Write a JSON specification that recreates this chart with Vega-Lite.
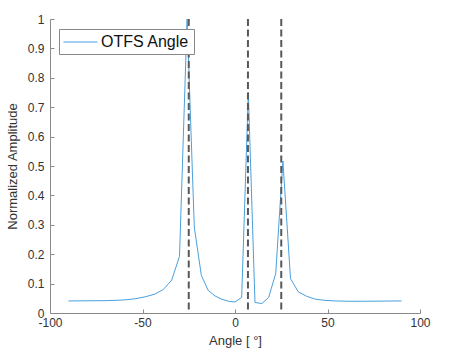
{
  "$schema": "https://vega.github.io/schema/vega-lite/v6.json",
  "autosize": {"type": "none"},
  "width": 370,
  "height": 294,
  "padding": {"left": 50, "top": 19, "right": 31, "bottom": 47},
  "background": "white",
  "config": {
    "view": {"stroke": null},
    "font": "Liberation Sans",
    "axis": {
      "domainColor": "#8a8a8a",
      "tickColor": "#8a8a8a",
      "tickSize": -4,
      "grid": false,
      "labelColor": "#333333",
      "labelFontSize": 12,
      "labelFlush": false,
      "titleColor": "#333333",
      "titleFontSize": 13,
      "titleFontWeight": "normal"
    }
  },
  "layer": [
    {
      "data": {
        "values": [
          {"angle": -90, "amp": 0.041},
          {"angle": -69.6, "amp": 0.042},
          {"angle": -61.0, "amp": 0.044},
          {"angle": -54.3, "amp": 0.048},
          {"angle": -48.6, "amp": 0.055},
          {"angle": -43.4, "amp": 0.064},
          {"angle": -38.7, "amp": 0.080},
          {"angle": -34.2, "amp": 0.112},
          {"angle": -30.0, "amp": 0.193},
          {"angle": -25.9, "amp": 1.0},
          {"angle": -22.0, "amp": 0.292},
          {"angle": -18.2, "amp": 0.128},
          {"angle": -14.5, "amp": 0.077},
          {"angle": -10.8, "amp": 0.058},
          {"angle": -7.2, "amp": 0.047},
          {"angle": -3.6, "amp": 0.040},
          {"angle": 0, "amp": 0.0375},
          {"angle": 3.6, "amp": 0.053},
          {"angle": 7.2, "amp": 0.75},
          {"angle": 10.8, "amp": 0.036},
          {"angle": 14.5, "amp": 0.032},
          {"angle": 18.2, "amp": 0.053},
          {"angle": 22.0, "amp": 0.134},
          {"angle": 25.9, "amp": 0.517},
          {"angle": 30.0, "amp": 0.117},
          {"angle": 34.2, "amp": 0.072},
          {"angle": 38.7, "amp": 0.057},
          {"angle": 43.4, "amp": 0.047},
          {"angle": 48.6, "amp": 0.043},
          {"angle": 54.3, "amp": 0.041},
          {"angle": 61.0, "amp": 0.040},
          {"angle": 69.6, "amp": 0.040},
          {"angle": 90, "amp": 0.041}
        ]
      },
      "mark": {"type": "line", "strokeWidth": 1, "clip": true},
      "encoding": {
        "x": {
          "field": "angle",
          "type": "quantitative",
          "scale": {"domain": [-100, 100], "nice": false},
          "axis": {
            "title": "Angle [   °]",
            "values": [-100, -50, 0, 50, 100],
            "labelExpr": "'' + datum.value",
            "labelPadding": 8,
            "titlePadding": 6
          }
        },
        "y": {
          "field": "amp",
          "type": "quantitative",
          "scale": {"domain": [0, 1], "nice": false},
          "axis": {
            "title": "Normalized Amplitude",
            "values": [0, 0.1, 0.2, 0.3, 0.4, 0.5, 0.6, 0.7, 0.8, 0.9, 1],
            "format": "~g",
            "labelPadding": 10,
            "titlePadding": 8
          }
        },
        "color": {
          "datum": "OTFS Angle",
          "type": "nominal",
          "scale": {"range": ["#4a9fdc"]},
          "legend": {
            "title": null,
            "orient": "none",
            "legendX": 9,
            "legendY": 10,
            "symbolType": "M-1,0H3",
            "symbolSize": 289,
            "symbolStrokeWidth": 1,
            "labelFontSize": 16,
            "labelColor": "#111111",
            "labelOffset": 20,
            "padding": 4,
            "strokeColor": "#888888",
            "fillColor": "white",
            "cornerRadius": 0
          }
        }
      }
    },
    {
      "data": {"values": [{"pos": -25}, {"pos": 7}, {"pos": 25}]},
      "mark": {"type": "rule", "color": "#595959", "strokeWidth": 2, "strokeDash": [7, 3.5]},
      "encoding": {
        "x": {"field": "pos", "type": "quantitative"}
      }
    }
  ]
}
